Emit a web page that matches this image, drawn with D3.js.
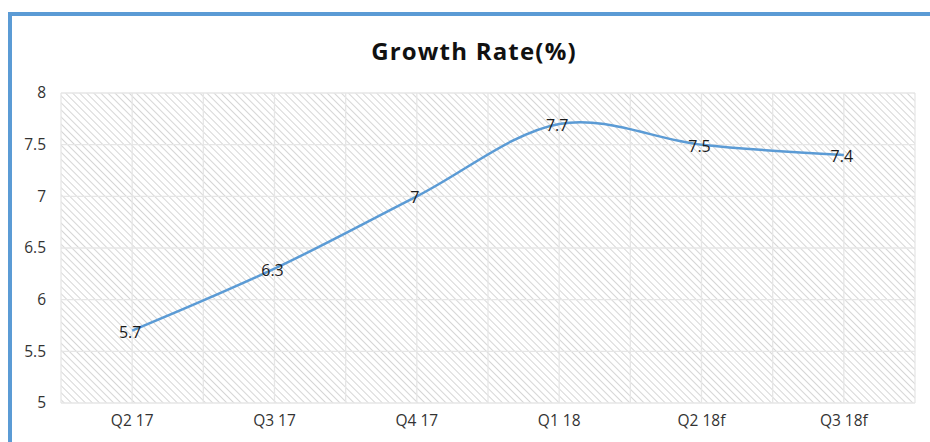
<!DOCTYPE html>
<html><head><meta charset="utf-8">
<script src="https://cdn.jsdelivr.net/npm/d3@7"></script>
<style>
body{margin:0;background:#fff;}
text{font-family:"Open Sans","Noto Sans",sans-serif;}
</style></head>
<body>
<svg id="c" width="930" height="442"></svg>
<script>
const categories = ["Q2 17","Q3 17","Q4 17","Q1 18","Q2 18f","Q3 18f"];
const growth = [5.7, 6.3, 7, 7.7, 7.5, 7.4];
const yTicks = [5, 5.5, 6, 6.5, 7, 7.5, 8];
const title = "Growth Rate(%)";

const svg = d3.select("#c");
const W = 930, H = 442;
const m = {l:61, r:15, t:93, b:39};
const pw = W - m.l - m.r, ph = H - m.t - m.b;

// frame border
svg.append("path").attr("d", `M10,442 V14 H930`).attr("fill","none")
  .attr("stroke","#5b9bd5").attr("stroke-width",4);

const defs = svg.append("defs");
const pat = defs.append("pattern").attr("id","hatch").attr("patternUnits","userSpaceOnUse")
  .attr("width",5).attr("height",5).attr("patternTransform","rotate(-45)");
pat.append("rect").attr("width",5).attr("height",5).attr("fill","#ffffff");
pat.append("line").attr("x1",0).attr("y1",0).attr("x2",0).attr("y2",5)
  .attr("stroke","#d6d6d6").attr("stroke-width",2);

const x = d3.scaleBand().domain(categories).range([m.l, m.l+pw]).padding(0);
const y = d3.scaleLinear().domain([5,8]).range([m.t+ph, m.t]);

const g = svg.append("g");
g.append("rect").attr("x",m.l).attr("y",m.t).attr("width",pw).attr("height",ph).attr("fill","url(#hatch)");

// vertical gridlines at band edges and centers
const vlines = [];
categories.forEach(c => { vlines.push(x(c)); vlines.push(x(c)+x.bandwidth()/2); });
vlines.push(m.l+pw);
g.selectAll(".vg").data(vlines).join("line")
  .attr("x1",d=>d).attr("x2",d=>d).attr("y1",m.t).attr("y2",m.t+ph)
  .attr("stroke","#e6e6e6").attr("stroke-width",1.3);
g.selectAll(".hg").data(yTicks).join("line")
  .attr("x1",m.l).attr("x2",m.l+pw).attr("y1",d=>y(d)).attr("y2",d=>y(d))
  .attr("stroke","#e6e6e6").attr("stroke-width",1.3);

// y axis labels
const yAxis = d3.axisLeft(y).tickValues(yTicks).tickSize(0).tickPadding(15).tickFormat(d3.format("~g"));
const ya = svg.append("g").attr("transform",`translate(${m.l},0)`).call(yAxis);
ya.attr("font-size",null).attr("font-family",null);
ya.select(".domain").remove();
ya.selectAll("text").style("font-size","15.5px").attr("fill","#333");

const xAxis = d3.axisBottom(x).tickSize(0).tickPadding(12);
const xa = svg.append("g").attr("transform",`translate(0,${m.t+ph})`).call(xAxis);
xa.attr("font-size",null).attr("font-family",null);
xa.select(".domain").remove();
xa.selectAll("text").style("font-size","15.5px").attr("fill","#333");

// line
const pts = categories.map((c,i)=>[x(c)+x.bandwidth()/2, y(growth[i])]);
svg.append("path").attr("d", d3.line().curve(d3.curveCardinal.tension(0))(pts))
  .attr("fill","none").attr("stroke","#5b9bd5").attr("stroke-width",2.5);

// labels
svg.selectAll(".lbl").data(growth).join("text")
  .attr("x",(d,i)=>x(categories[i])+x.bandwidth()/2 - 2)
  .attr("y",d=>y(d)+1)
  .attr("text-anchor","middle").attr("dominant-baseline","central")
  .style("font-size","16px").attr("fill","#1a1a1a").text(d=>d);

svg.append("text").attr("x",474).attr("y",50).attr("text-anchor","middle")
  .attr("dominant-baseline","central").style("font-size","24px").attr("font-weight","bold")
  .attr("letter-spacing",1.2)
  .attr("fill","#111").text(title);
</script>
</body></html>
